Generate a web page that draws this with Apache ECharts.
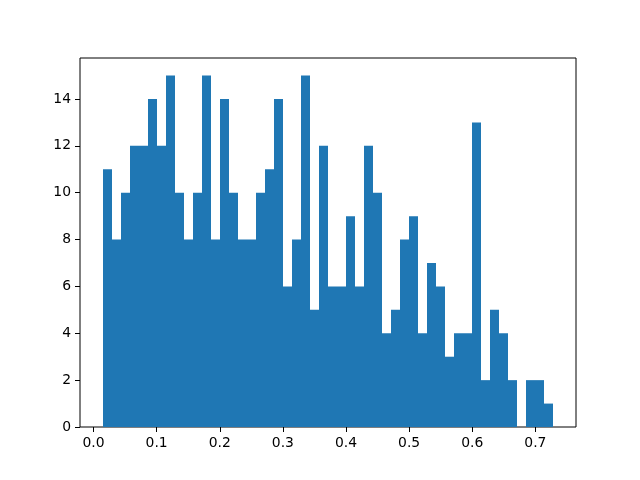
<!DOCTYPE html>
<html>
<head>
<meta charset="utf-8">
<script src="https://cdn.jsdelivr.net/npm/echarts@6/dist/echarts.min.js"></script>
<style>
  html, body { margin: 0; padding: 0; background: #fff; }
  #chart { width: 640px; height: 480px; }
</style>
</head>
<body>
<div id="chart"></div>
<script>
// histogram counts, 50 bins
const counts = [
  11, 8, 10, 12, 12, 14, 12, 15, 10, 8,
  10, 15, 8, 14, 10, 8, 8, 10, 11, 14,
  6, 8, 15, 5, 12, 6, 6, 9, 6, 12,
  10, 4, 5, 8, 9, 4, 7, 6, 3, 4,
  4, 13, 2, 5, 4, 2, 0, 2, 2, 1
]
const binStart = 0.0143
const binEnd = 0.7286
const xTicks = [0, 0.1, 0.2, 0.3, 0.4, 0.5, 0.6, 0.7]
const yTicks = [0, 2, 4, 6, 8, 10, 12, 14]

const binWidth = (binEnd - binStart) / counts.length
const bins = counts.map((c, i) => [binStart + i * binWidth, binStart + (i + 1) * binWidth, c])

const chart = echarts.init(document.getElementById('chart'))

const labelStyle = {
  color: '#000',
  fontFamily: 'DejaVu Sans',
  fontSize: 13.9
}

const option = {
  animation: false,
  grid: {
    left: 80,
    right: 64,
    top: 58,
    bottom: 53,
    show: true,
    borderColor: '#000',
    borderWidth: 1,
    backgroundColor: 'transparent'
  },
  xAxis: {
    type: 'value',
    min: -0.0214,
    max: 0.7643,
    splitLine: { show: false },
    axisLine: { show: false, onZero: false },
    axisTick: {
      show: true,
      length: 5,
      lineStyle: { color: '#000' },
      customValues: xTicks
    },
    axisLabel: {
      ...labelStyle,
      margin: 9,
      customValues: xTicks,
      formatter: v => v.toFixed(1)
    }
  },
  yAxis: {
    type: 'value',
    min: 0,
    max: 15.75,
    splitLine: { show: false },
    axisLine: { show: false, onZero: false },
    axisTick: {
      show: true,
      length: 5,
      lineStyle: { color: '#000' },
      customValues: yTicks
    },
    axisLabel: {
      ...labelStyle,
      margin: 9,
      customValues: yTicks
    }
  },
  series: [
    {
      type: 'custom',
      data: bins,
      encode: { x: [0, 1], y: 2 },
      renderItem: (params, api) => {
        const p0 = api.coord([api.value(0), api.value(2)])
        const p1 = api.coord([api.value(1), 0])
        // snap edges to whole pixels so neighbouring bars don't show seams
        const x0 = Math.round(p0[0])
        const x1 = Math.round(p1[0])
        return {
          type: 'rect',
          shape: { x: x0, y: p0[1], width: x1 - x0, height: p1[1] - p0[1] },
          style: { fill: '#1f77b4', stroke: null }
        }
      }
    }
  ]
}

chart.setOption(option)
</script>
</body>
</html>
